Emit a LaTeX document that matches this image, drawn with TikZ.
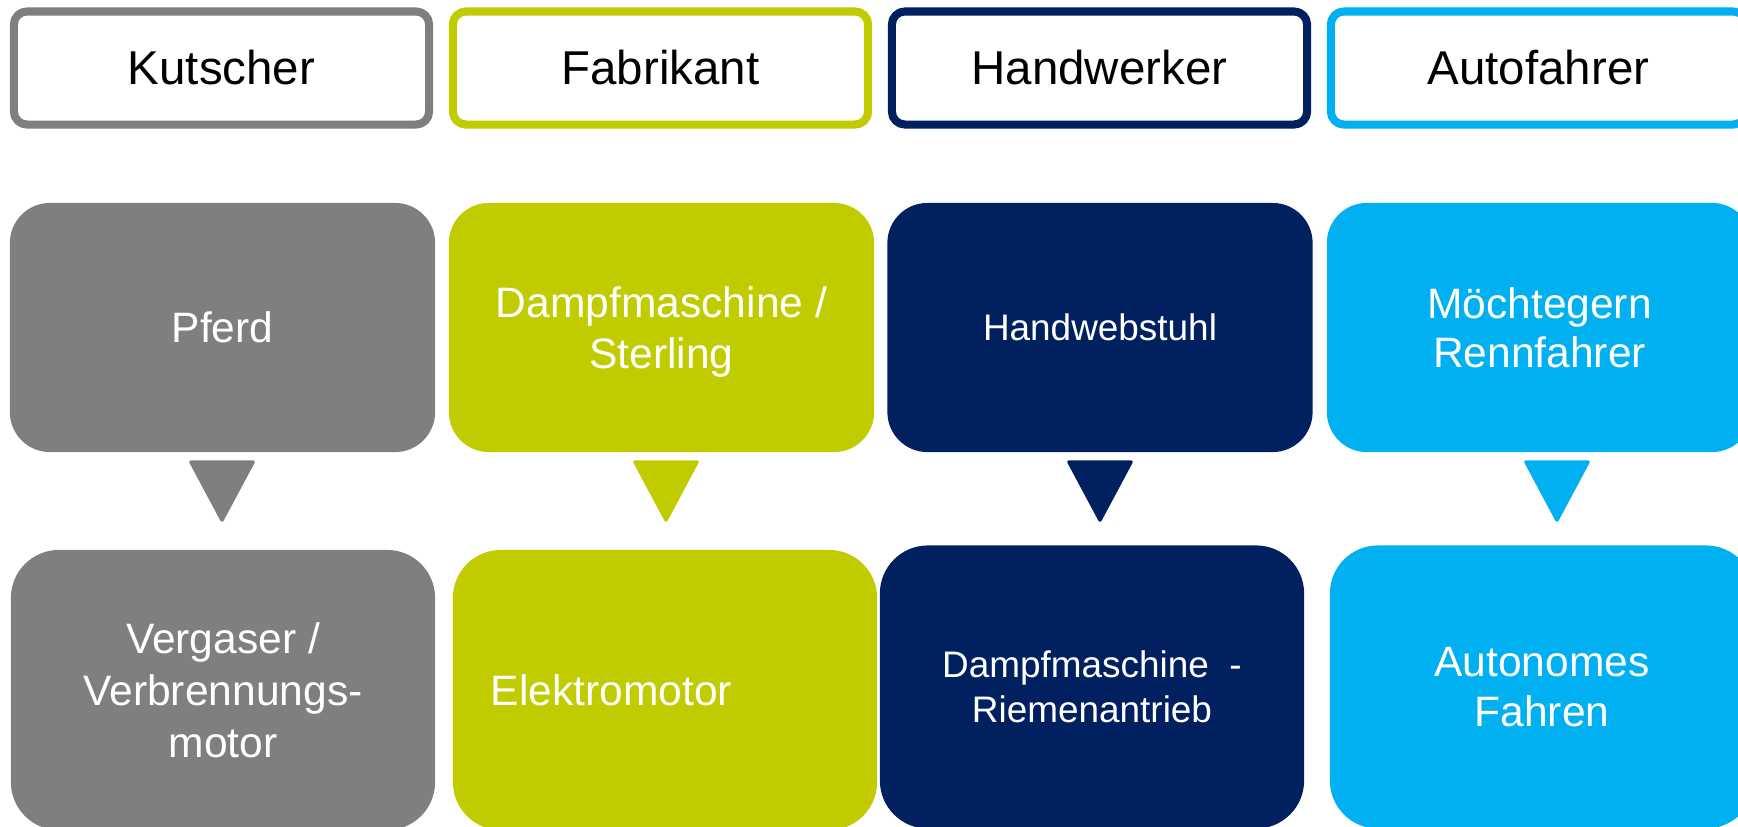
\documentclass[tikz,border=0pt]{standalone}
\usepackage{fontspec}
\setmainfont{Liberation Sans}
\usepackage{tikz}
\definecolor{grau}{HTML}{7F7F7F}
\definecolor{gruen}{HTML}{C0CC00}
\definecolor{navy}{HTML}{002060}
\definecolor{hellblau}{HTML}{00B0F0}

\begin{document}
\begin{tikzpicture}[line cap=round,line join=round,x=0.01cm,y=0.01cm,
    rolle/.style={draw=#1,line width=2.3pt,fill=white,rounded corners=3.7pt,minimum width=4.15cm,minimum height=1.13cm,inner sep=0pt,font=\fontsize{13.5}{16}\selectfont},
    kasten/.style={fill=#1,draw=none,text=white,inner sep=0pt,align=center,font=\fontsize{12.1}{14.6}\selectfont},
    mitte/.style={kasten=#1,rounded corners=0.4cm,minimum width=4.25cm,minimum height=2.49cm},
    unten/.style={kasten=#1,rounded corners=0.48cm,minimum width=4.24cm,minimum height=2.8cm},
    klein/.style={font=\fontsize{10.5}{12.8}\selectfont}]
    % \clip(0,0) rectangle (1738,-826);
    \useasboundingbox (0,0) rectangle (1738,-826);
    \node [rolle=grau] (kutscher) at (221.5,-68) {Kutscher};
    \node [rolle=gruen] (fabrikant) at (660.5,-68) {Fabrikant};
    \node [rolle=navy] (handwerker) at (1099.5,-68) {Handwerker};
    \node [rolle=hellblau] (autofahrer) at (1538.5,-68) {Autofahrer};
    \node [mitte=grau] (pferd) at (222.5,-327.5) {Pferd};
    \node [mitte=gruen,text depth=0pt] (dampf) at (661.5,-327.5) {Dampfmaschine /\\Sterling};
    \node [mitte=navy,klein] (webstuhl) at (1100,-327.5) {Handwebstuhl};
    \node [mitte=hellblau,font=\fontsize{12.1}{13.9}\selectfont] (renn) at (1539.5,-327.5) {Möchtegern\\Rennfahrer};
    \filldraw [grau,line width=1pt] (191,-462) -- (253,-462) -- (222,-520) -- cycle;
    \filldraw [gruen,line width=1pt] (635,-462) -- (697,-462) -- (666,-520) -- cycle;
    \filldraw [navy,line width=1pt] (1069,-462) -- (1131,-462) -- (1100,-520) -- cycle;
    \filldraw [hellblau,line width=1pt] (1526,-462) -- (1588,-462) -- (1557,-520) -- cycle;
    \node [unten=grau,font=\fontsize{12.1}{14.8}\selectfont] (vergaser) at (223,-690) {Vergaser /\\Verbrennungs-\\motor};
    \node [unten=gruen,align=left,text width=3.48cm,inner xsep=0.38cm] (elektro) at (665,-690) {Elektromotor};
    \node [unten=navy,klein,minimum height=2.83cm] (riemen) at (1092,-687) {Dampfmaschine\ \ -\\Riemenantrieb};
    \node [unten=hellblau,minimum height=2.83cm,font=\fontsize{12.1}{14.2}\selectfont] (autonom) at (1542,-687) {Autonomes\\Fahren};
\end{tikzpicture}
\end{document}
